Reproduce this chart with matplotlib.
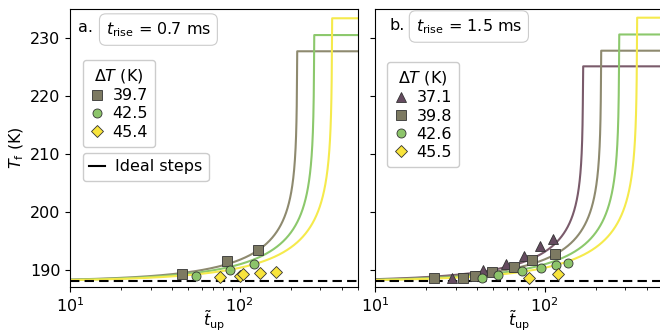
import numpy as np
import matplotlib
matplotlib.use("Agg")
import matplotlib.pyplot as plt
from matplotlib.lines import Line2D

plt.rcParams['font.family'] = 'DejaVu Sans'
plt.rcParams['font.size'] = 11.5
plt.rcParams['mathtext.fontset'] = 'dejavusans'

T0 = 188.0          # ideal step baseline (K)
K_SHAPE = 0.152     # curvature of the model curves

# panel a: t_rise = 0.7 ms
a_dT = [39.7, 42.5, 45.4]
a_tc = [219, 276, 352]          # where each curve reaches its plateau
a_t = [[46.0, 84.1, 128.2],
       [55.6, 87.3, 122.5],
       [76.2, 101.0, 105.0, 132.5, 164.4]]
a_T = [[189.2, 191.5, 193.4],
       [188.9, 190.0, 191.05],
       [188.8, 188.9, 189.2, 189.5, 189.6]]

# panel b: t_rise = 1.5 ms
b_dT = [37.1, 39.8, 42.6, 45.5]
b_tc = [169, 216, 276, 352]
b_t = [[28.6, 43.4, 59.0, 75.5, 93.5, 111.9],
       [22.3, 33.0, 38.7, 49.2, 65.9, 84.1, 115.6],
       [43.0, 53.1, 74.0, 95.5, 117.2, 138.4],
       [80.9, 119.7]]
b_T = [[188.6, 189.9, 191.05, 192.4, 194.1, 195.3],
       [188.5, 188.5, 188.9, 189.6, 190.5, 191.6, 192.7],
       [188.6, 189.05, 189.7, 190.3, 190.8, 191.1],
       [188.6, 189.2]]

styles = {
    37.1: dict(line='#7a5b6b', face='#654b60', marker='^'),
    39.7: dict(line='#8e8a6f', face='#7d7a62', marker='s'),
    39.8: dict(line='#8e8a6f', face='#7d7a62', marker='s'),
    42.5: dict(line='#8cc86c', face='#8cc46a', marker='o'),
    42.6: dict(line='#8cc86c', face='#8cc46a', marker='o'),
    45.4: dict(line='#f5ea4c', face='#f8e43c', marker='D'),
    45.5: dict(line='#f5ea4c', face='#f8e43c', marker='D'),
}


def model(t, dT, tc):
    x = np.clip(t / tc, 0, 1 - 1e-12)
    f = np.minimum(dT, K_SHAPE * dT * (-np.log1p(-x)))
    return T0 + np.where(t >= tc, dT, f)


def draw(ax, dTs, tcs, ts, Ts):
    grid = np.logspace(1, np.log10(500), 3000)
    handles = []
    for dT, tc, tt, TT in zip(dTs, tcs, ts, Ts):
        st = styles[dT]
        tx = np.sort(np.append(grid, tc))
        ax.plot(tx, model(tx, dT, tc), color=st['line'], lw=1.5, zorder=2)
        ms = 6 if st['marker'] == 'D' else 6.5
        h, = ax.plot(tt, TT, ls='none', marker=st['marker'], ms=ms,
                     mfc=st['face'], mec='#333333', mew=0.6, zorder=4,
                     label=f'{dT}')
        handles.append(h)
    ax.plot([10, 500], [T0, T0], color='black', lw=1.5,
            dashes=(4.5, 2.5), zorder=3)
    ax.set_xscale('log')
    ax.set_xlim(10, 500)
    ax.set_ylim(187, 235)
    ax.set_yticks([190, 200, 210, 220, 230])
    ax.set_xlabel(r'$\tilde{t}_\mathrm{up}$')
    ax.xaxis.set_label_coords(0.5, -0.078)
    return handles


fig = plt.figure(figsize=(6.6, 3.35), dpi=100)
ax1 = fig.add_axes([70 / 660, 48 / 335, 288 / 660, 278 / 335])
ax2 = fig.add_axes([375 / 660, 48 / 335, 288 / 660, 278 / 335])

box = dict(boxstyle='round,pad=0.4', fc='white', ec='0.8', lw=0.8)
leg_kw = dict(loc='upper left', borderaxespad=0, handlelength=0.9,
              handletextpad=0.5, labelspacing=0.2, borderpad=0.45,
              edgecolor='0.8', framealpha=1, title_fontsize=11.5)

h1 = draw(ax1, a_dT, a_tc, a_t, a_T)
ax1.set_ylabel(r'$T_\mathrm{f}$ (K)', labelpad=3)
ax1.text(0.028, 0.933, 'a.', transform=ax1.transAxes,
         va='center', ha='left')
ax1.text(0.307, 0.926, r'$t_\mathrm{rise}$ = 0.7 ms', transform=ax1.transAxes,
         ha='center', va='center', bbox=box)
leg1 = ax1.legend(handles=h1, title=r'$\Delta T$ (K)',
                  bbox_to_anchor=(0.045, 0.817), **leg_kw)
ax1.add_artist(leg1)
ax1.legend(handles=[Line2D([], [], color='black', lw=1.5)], labels=['Ideal steps'],
           loc='upper left', bbox_to_anchor=(0.045, 0.482), borderaxespad=0,
           handlelength=1.0, handletextpad=0.6, borderpad=0.4,
           edgecolor='0.8', framealpha=1)

h2 = draw(ax2, b_dT, b_tc, b_t, b_T)
ax2.tick_params(axis='y', labelleft=False)
ax2.text(0.049, 0.942, 'b.', transform=ax2.transAxes,
         va='center', ha='left')
ax2.text(0.326, 0.937, r'$t_\mathrm{rise}$ = 1.5 ms', transform=ax2.transAxes,
         ha='center', va='center', bbox=box)
ax2.legend(handles=h2, title=r'$\Delta T$ (K)',
           bbox_to_anchor=(0.042, 0.809), **leg_kw)

fig.savefig('out.png', dpi=100)
